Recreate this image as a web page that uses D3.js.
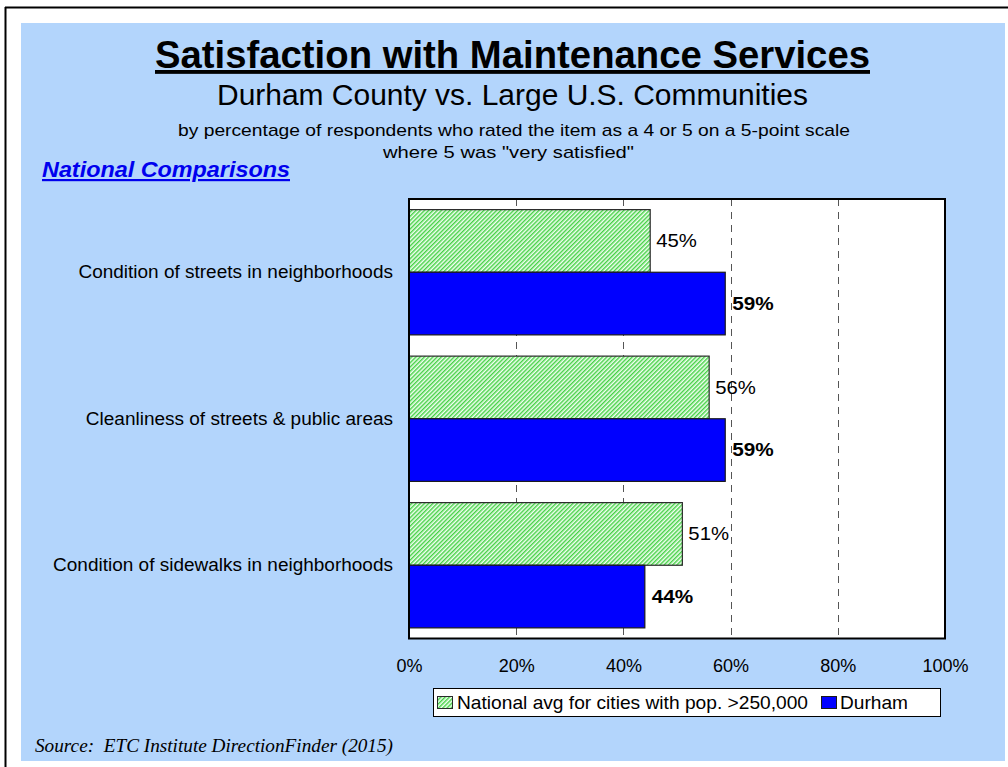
<!DOCTYPE html>
<html>
<head>
<meta charset="utf-8">
<script src="https://cdn.jsdelivr.net/npm/d3@7"></script>
<style>
  html, body { margin: 0; padding: 0; background: #ffffff; }
  svg { display: block; }
  text { font-family: Arial, "Liberation Sans", sans-serif; }
</style>
</head>
<body>
<svg id="chart" width="1008" height="767"></svg>
<script>
// Survey items and the share of respondents rating them 4 or 5
const categories = [
  "Condition of streets in neighborhoods",
  "Cleanliness of streets & public areas",
  "Condition of sidewalks in neighborhoods"
];
const nationalValues = [45, 56, 51];
const durhamValues = [59, 59, 44];
const seriesNames = ["National avg for cities with pop. >250,000", "Durham"];
const tickValues = [0, 20, 40, 60, 80, 100];

const svg = d3.select("#chart");

// Widen text horizontally by a factor, keeping its height
function widen(sel, factor) {
  sel.each(function () {
    const w = this.getComputedTextLength();
    d3.select(this).attr("textLength", w * factor).attr("lengthAdjust", "spacingAndGlyphs");
  });
  return sel;
}
// Fit text to an exact width
function fitWidth(sel, width) {
  return sel.attr("textLength", width).attr("lengthAdjust", "spacingAndGlyphs");
}

// Page frame and background panel
svg.append("line").attr("x1", 5.5).attr("y1", 7).attr("x2", 5.5).attr("y2", 767)
  .attr("stroke", "#000").attr("stroke-width", 2);
svg.append("line").attr("x1", 5).attr("y1", 7.5).attr("x2", 1008).attr("y2", 7.5)
  .attr("stroke", "#000").attr("stroke-width", 2);
svg.append("rect").attr("x", 21).attr("y", 23).attr("width", 984).attr("height", 738)
  .attr("fill", "#b3d5fc");

// Hatched fill for the national average series
const defs = svg.append("defs");
const pat = defs.append("pattern")
  .attr("id", "hatch")
  .attr("patternUnits", "userSpaceOnUse")
  .attr("width", 3).attr("height", 3)
  .attr("patternTransform", "rotate(45)");
pat.append("rect").attr("width", 3).attr("height", 3).attr("fill", "#f2fff2");
pat.append("line").attr("x1", 0.75).attr("y1", 0).attr("x2", 0.75).attr("y2", 3)
  .attr("stroke", "#33cc33").attr("stroke-width", 1.3);

// Titles
fitWidth(svg.append("text").attr("x", 512.5).attr("y", 68).attr("text-anchor", "middle")
  .attr("font-size", 38.5).attr("font-weight", "bold")
  .attr("text-decoration", "underline")
  .text("Satisfaction with Maintenance Services"), 715);
fitWidth(svg.append("text").attr("x", 512.5).attr("y", 105).attr("text-anchor", "middle")
  .attr("font-size", 29.5)
  .text("Durham County vs. Large U.S. Communities"), 591);
fitWidth(svg.append("text").attr("x", 514).attr("y", 136).attr("text-anchor", "middle")
  .attr("font-size", 17)
  .text("by percentage of respondents who rated the item as a 4 or 5 on a 5-point scale"), 672);
fitWidth(svg.append("text").attr("x", 508.5).attr("y", 158).attr("text-anchor", "middle")
  .attr("font-size", 17)
  .text("where 5 was \"very satisfied\""), 251);
fitWidth(svg.append("text").attr("x", 42).attr("y", 177)
  .attr("font-size", 22).attr("font-weight", "bold").attr("font-style", "italic")
  .attr("fill", "#0000ee").attr("text-decoration", "underline")
  .text("National Comparisons"), 248);

// Plot area
const plot = { left: 409, right: 945, top: 199, bottom: 638.5 };
const x = d3.scaleLinear().domain([0, 100]).range([plot.left, plot.right]);
const y0 = d3.scaleBand().domain(categories).range([plot.top, plot.bottom])
  .paddingInner(0.145).paddingOuter(0.0725);
const y1 = d3.scaleBand().domain(seriesNames).range([0, y0.bandwidth()]);

svg.append("rect").attr("x", plot.left).attr("y", plot.top)
  .attr("width", plot.right - plot.left).attr("height", plot.bottom - plot.top)
  .attr("fill", "#ffffff");

// Dashed vertical gridlines
svg.append("g")
  .selectAll("line")
  .data(tickValues.filter(d => d > 0 && d < 100))
  .join("line")
  .attr("x1", d => Math.round(x(d)) + 0.5).attr("x2", d => Math.round(x(d)) + 0.5)
  .attr("y1", plot.top).attr("y2", plot.bottom)
  .attr("stroke", "#555").attr("stroke-width", 1)
  .attr("stroke-dasharray", "7,6");

// Bars
const rows = categories.map((c, i) => ({ c, nat: nationalValues[i], dur: durhamValues[i] }));
const groups = svg.append("g").selectAll("g").data(rows).join("g")
  .attr("transform", d => `translate(0,${y0(d.c)})`);

groups.append("rect")
  .attr("x", x(0)).attr("y", y1(seriesNames[0]))
  .attr("width", d => x(d.nat) - x(0)).attr("height", y1.bandwidth())
  .attr("fill", "url(#hatch)").attr("stroke", "#2a2a2a").attr("stroke-width", 1.2);
groups.append("rect")
  .attr("x", x(0)).attr("y", y1(seriesNames[1]))
  .attr("width", d => x(d.dur) - x(0)).attr("height", y1.bandwidth())
  .attr("fill", "#0000ff").attr("stroke", "#1a1a1a").attr("stroke-width", 1.2);

// Value labels
widen(groups.append("text")
  .attr("x", d => x(d.nat) + 6)
  .attr("y", y1(seriesNames[0]) + y1.bandwidth() / 2)
  .attr("dy", "0.35em").attr("font-size", 18)
  .text(d => d.nat + "%"), 1.13);
widen(groups.append("text")
  .attr("x", d => x(d.dur) + 7)
  .attr("y", y1(seriesNames[1]) + y1.bandwidth() / 2)
  .attr("dy", "0.35em").attr("font-size", 18).attr("font-weight", "bold")
  .text(d => d.dur + "%"), 1.15);

// Category labels
widen(groups.append("text")
  .attr("x", 393).attr("y", y0.bandwidth() / 2)
  .attr("dy", "0.35em").attr("text-anchor", "end").attr("font-size", 17.5)
  .text(d => d.c), 1.085);

// Plot border
svg.append("rect").attr("x", plot.left).attr("y", plot.top)
  .attr("width", plot.right - plot.left).attr("height", plot.bottom - plot.top)
  .attr("fill", "none").attr("stroke", "#000").attr("stroke-width", 2);

// X axis tick labels
const xAxis = d3.axisBottom(x).tickValues(tickValues).tickSize(0).tickPadding(0)
  .tickFormat(d => d + "%");
const ax = svg.append("g").attr("transform", `translate(0,${plot.bottom + 21})`).call(xAxis);
ax.select(".domain").remove();
ax.selectAll("text").attr("font-size", 18).attr("fill", "#000")
  .attr("font-family", "Arial, 'Liberation Sans', sans-serif");

// Legend
const legend = svg.append("g");
legend.append("rect").attr("x", 433.5).attr("y", 688.5).attr("width", 507).attr("height", 28)
  .attr("fill", "#fff").attr("stroke", "#000").attr("stroke-width", 1);
legend.append("rect").attr("x", 437.5).attr("y", 696.5).attr("width", 15).attr("height", 12)
  .attr("fill", "url(#hatch)").attr("stroke", "#2a2a2a").attr("stroke-width", 1);
fitWidth(legend.append("text").attr("x", 457).attr("y", 709).attr("font-size", 18.5)
  .text(seriesNames[0]), 351);
legend.append("rect").attr("x", 821.5).attr("y", 696.5).attr("width", 15).attr("height", 12)
  .attr("fill", "#0000ff").attr("stroke", "#1a1a1a").attr("stroke-width", 1);
fitWidth(legend.append("text").attr("x", 840).attr("y", 709).attr("font-size", 18.5)
  .text(seriesNames[1]), 68);

// Source note
fitWidth(svg.append("text").attr("x", 35).attr("y", 752)
  .attr("font-size", 18).attr("font-style", "italic")
  .style("font-family", "'Times New Roman', 'Liberation Serif', serif")
  .style("white-space", "pre")
  .text("Source:  ETC Institute DirectionFinder (2015)"), 358);
</script>
</body>
</html>
